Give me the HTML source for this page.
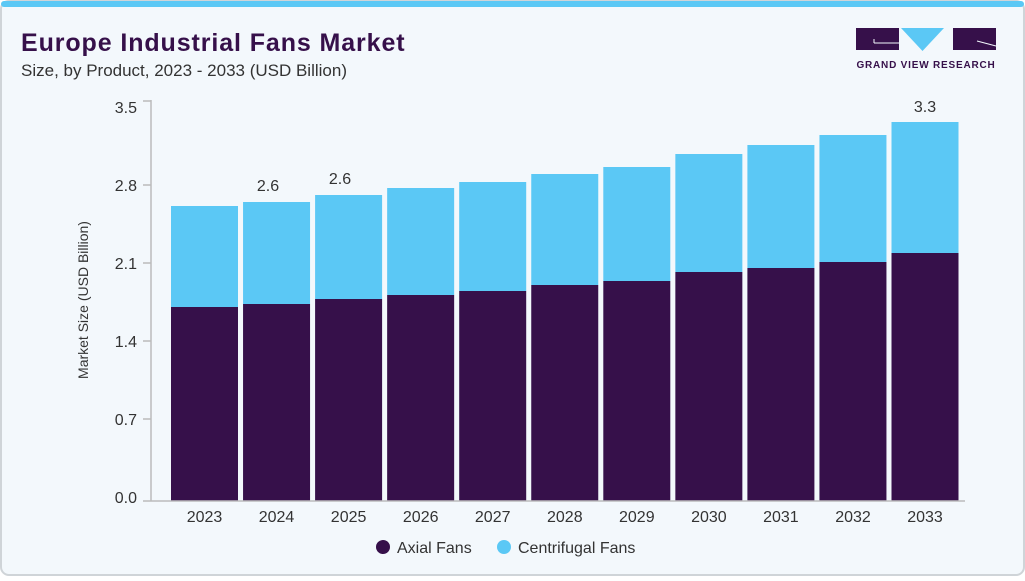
<!DOCTYPE html><html><head><meta charset="utf-8"><style>
body{margin:0;width:1025px;height:576px;overflow:hidden;background:#fff;font-family:"Liberation Sans",sans-serif}
</style></head><body>
<svg width="1025" height="576" xmlns="http://www.w3.org/2000/svg" font-family="Liberation Sans, sans-serif">
<rect x="1" y="1" width="1023" height="574" rx="8" fill="#f3f8fc" stroke="#cfd4d8" stroke-width="2"/>
<rect x="1" y="1" width="1023" height="6" rx="3" fill="#5bc8f5"/>
<text x="21" y="51" font-size="25" font-weight="bold" fill="#36104a" letter-spacing="0.9">Europe Industrial Fans Market</text>
<text x="21" y="76" font-size="17" fill="#333">Size, by Product, 2023 - 2033 (USD Billion)</text>
<g transform="translate(856,28)">
<rect x="0" y="0" width="43" height="22" fill="#36104a"/>
<path d="M18 15 H43 M18 11 V15" stroke="#f3f8fc" stroke-width="1" fill="none"/>
<polygon points="45,0 88,0 66.5,23" fill="#5bc8f5"/>
<rect x="97" y="0" width="43" height="22" fill="#36104a"/>
<path d="M121 13 L140 18" stroke="#f3f8fc" stroke-width="1"/>
<text x="70" y="40" font-size="10" font-weight="bold" fill="#36104a" text-anchor="middle" letter-spacing="0.8">GRAND VIEW RESEARCH</text>
</g>
<g fill="#5bc8f5">
<rect x="171" y="206" width="67" height="101"/>
<rect x="243.05" y="202" width="67" height="102"/>
<rect x="315.1" y="195" width="67" height="104"/>
<rect x="387.15" y="188" width="67" height="107"/>
<rect x="459.2" y="182" width="67" height="109"/>
<rect x="531.25" y="174" width="67" height="111"/>
<rect x="603.3" y="167" width="67" height="114"/>
<rect x="675.35" y="154" width="67" height="118"/>
<rect x="747.4" y="145" width="67" height="123"/>
<rect x="819.45" y="135" width="67" height="127"/>
<rect x="891.5" y="122" width="67" height="131"/>
</g>
<g fill="#36104a">
<rect x="171" y="307" width="67" height="194"/>
<rect x="243.05" y="304" width="67" height="197"/>
<rect x="315.1" y="299" width="67" height="202"/>
<rect x="387.15" y="295" width="67" height="206"/>
<rect x="459.2" y="291" width="67" height="210"/>
<rect x="531.25" y="285" width="67" height="216"/>
<rect x="603.3" y="281" width="67" height="220"/>
<rect x="675.35" y="272" width="67" height="229"/>
<rect x="747.4" y="268" width="67" height="233"/>
<rect x="819.45" y="262" width="67" height="239"/>
<rect x="891.5" y="253" width="67" height="248"/>
</g>
<g stroke="#bbb" stroke-width="1.5"><line x1="151" y1="100" x2="151" y2="501"/><line x1="151" y1="501" x2="965" y2="501"/>
<line x1="143" y1="101" x2="151" y2="101"/><line x1="143" y1="185" x2="151" y2="185"/><line x1="143" y1="263" x2="151" y2="263"/><line x1="143" y1="341" x2="151" y2="341"/><line x1="143" y1="419" x2="151" y2="419"/><line x1="143" y1="501" x2="151" y2="501"/></g>
<g font-size="16" fill="#333" text-anchor="end">
<text x="137" y="113">3.5</text><text x="137" y="191">2.8</text><text x="137" y="269">2.1</text><text x="137" y="347">1.4</text><text x="137" y="425">0.7</text><text x="137" y="503">0.0</text></g>
<text transform="translate(88,300) rotate(-90)" font-size="14" fill="#333" text-anchor="middle">Market Size (USD Billion)</text>
<g font-size="16" fill="#333" text-anchor="middle">
<text x="204.5" y="522">2023</text><text x="276.5" y="522">2024</text><text x="348.6" y="522">2025</text><text x="420.7" y="522">2026</text><text x="492.7" y="522">2027</text><text x="564.8" y="522">2028</text><text x="636.8" y="522">2029</text><text x="708.9" y="522">2030</text><text x="780.9" y="522">2031</text><text x="853" y="522">2032</text><text x="925" y="522">2033</text>
<text x="268" y="191">2.6</text><text x="340" y="184">2.6</text><text x="925" y="112">3.3</text></g>
<circle cx="383" cy="547" r="7" fill="#36104a"/><text x="397" y="553" font-size="16" fill="#333">Axial Fans</text>
<circle cx="504" cy="547" r="7" fill="#5bc8f5"/><text x="518" y="553" font-size="16" fill="#333">Centrifugal Fans</text>
</svg></body></html>
